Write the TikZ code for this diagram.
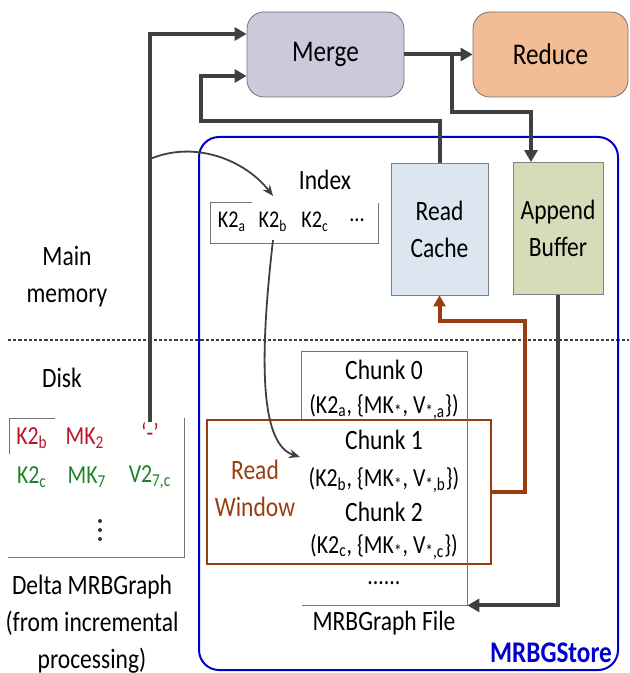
\documentclass[tikz,border=0pt]{standalone}
\usepackage{fontspec}
\setmainfont{Carlito}[FakeStretch=0.84]
\usetikzlibrary{arrows.meta,calc}

\definecolor{lineg}{RGB}{64,64,64}
\definecolor{mergefill}{RGB}{205,201,221}
\definecolor{reducefill}{RGB}{242,189,148}
\definecolor{cachefill}{RGB}{220,230,241}
\definecolor{appendfill}{RGB}{215,219,184}
\definecolor{storeblue}{RGB}{0,0,205}
\definecolor{winbrown}{RGB}{153,60,15}
\definecolor{oldred}{RGB}{185,20,40}
\definecolor{newgreen}{RGB}{30,130,40}

\begin{document}
\begin{tikzpicture}[x=0.5pt, y=-0.5pt,
    font=\fontsize{14}{18.5}\selectfont,
    stage/.style={draw=black!55, rounded corners=8.5pt, minimum width=78.5pt,
                  minimum height=42.5pt, font=\fontsize{15}{18}\selectfont},
    buf/.style={draw=black!50, align=center, minimum height=66pt},
    lbl/.style={inner sep=0pt, align=center},
    kv/.style={inner sep=0pt, font=\fontsize{13}{15}\selectfont},
    key/.style={inner sep=4pt, font=\fontsize{12}{14}\selectfont},
    rule/.style={draw=black!55, line width=0.5pt},
    flow/.style={-{Triangle[length=6pt,width=6.5pt]}, line width=2pt, draw=lineg},
    rdflow/.style={-{Triangle[length=5.5pt,width=6pt]}, line width=2pt, draw=winbrown},
    ptr/.style={-{Stealth[length=5.5pt,width=4.5pt]}, line width=0.9pt, draw=lineg}]

  \useasboundingbox (0,0) rectangle (629,673);

  % memory / disk split
  \draw[lineg, line width=0.9pt, dash pattern=on 1.6pt off 1pt] (8,340) -- (629,340);

  % MRBGStore frame
  \draw[storeblue, line width=1pt, rounded corners=10pt] (199,137) rectangle (618,670);
  \node[lbl, text=storeblue, font=\fontsize{15}{18}\bfseries] (storelbl) at (551,653) {MRBGStore};

  % stages
  \node[stage, fill=mergefill] (merge) at (325.5,54.5) {Merge};
  \node[stage, fill=reducefill, minimum width=77.5pt] (reduce) at (550.5,54.5) {Reduce};

  % in-memory buffers
  \node[buf, fill=cachefill, minimum width=48.5pt] (cache) at (439.5,229) {Read\\Cache};
  \node[buf, fill=appendfill, minimum width=45pt] (append) at (558,228.5) {Append\\Buffer};

  % index
  \node[lbl] (idx) at (325,180) {Index};
  \node[key] (k2a) at (232,222) {K2\textsubscript{a}};
  \node[key] (k2b) at (273,222) {K2\textsubscript{b}};
  \node[key] (k2c) at (315,222) {K2\textsubscript{c}};
  \node[key] (kdots) at (357,220) {...};
  \draw[rule] (252,203) -| (210,244) -| (378,203);

  % side labels
  \node[lbl] (mainmem) at (67,277) {Main\\memory};
  \node[lbl] (disk) at (62,378) {Disk};
  \node[lbl] (deltalbl) at (92,624) {Delta MRBGraph\\(from incremental\\processing)};

  % delta MRBGraph records
  \node[kv, text=oldred] (dk2b) at (32,438) {K2\textsubscript{b}};
  \node[kv, text=oldred] (dmk2) at (85,438) {MK\textsubscript{2}};
  \node[kv, text=oldred] (minus) at (150,432) {‘-’};
  \node[kv, text=newgreen] (dk2c) at (32,477) {K2\textsubscript{c}};
  \node[kv, text=newgreen] (dmk7) at (87,477) {MK\textsubscript{7}};
  \node[kv, text=newgreen] (dv27) at (150,477) {V2\textsubscript{7,c}};
  \foreach \y in {521,530,539}
    \fill[black!80] (100,\y) circle (1pt);
  \draw[rule] (55,418) -| (9,454);
  \draw[rule] (184,418) |- (8,557);

  % MRBGraph file and its chunks
  \node[minimum width=82.5pt, minimum height=126.5pt] (file) at (384.5,478.5) {};
  \node[lbl] (c0) at (384,370) {Chunk 0};
  \node[kv] (c0kv) at (384,407) {(K2\textsubscript{a}, \{MK\textsubscript{*}, V\textsubscript{*,a}\})};
  \node[lbl] (c1) at (384,440) {Chunk 1};
  \node[kv] (c1kv) at (384,480) {(K2\textsubscript{b}, \{MK\textsubscript{*}, V\textsubscript{*,b}\})};
  \node[lbl] (c2) at (384,512) {Chunk 2};
  \node[kv] (c2kv) at (384,547) {(K2\textsubscript{c}, \{MK\textsubscript{*}, V\textsubscript{*,c}\})};
  \node[kv] (cdots) at (384,583) {......};
  \node[lbl] (filelbl) at (384,623) {MRBGraph File};

  % read window over chunks 1-2
  \node[draw=winbrown, line width=1.2pt, minimum width=142pt, minimum height=72pt] (window) at (349,492) {};
  \node[lbl, text=winbrown] (wlbl) at (255,488) {Read\\Window};
  \draw[rule] (file.west |- window.north) |- (file.north east) |- (file.south west);

  % data flow
  \coordinate (split) at (452,54.5);
  \coordinate (abin) at ([xshift=-13.5pt]append.north);
  \draw[flow] (merge.east) -- (reduce.west);
  \draw[flow] (split) -- (split |- 0,112) -| (abin);
  \draw[flow] (cache.north) |- (201,121) |- ([yshift=-10.75pt]merge.west);
  \draw[flow] (minus.north) |- ([yshift=10.25pt]merge.west);
  \draw[flow] (append.south) |- (file.south east);
  \draw[rdflow] (window.east) -| (525,321) -| (cache.south);

  % index lookups
  \coordinate (tap) at (150,159);
  \coordinate (chunkin) at (300,457);
  \draw[ptr] (tap) .. controls (195,140) and (245,160) .. ([yshift=4pt]k2b.north);
  \draw[ptr] (k2b.south) .. controls (258,370) and (262,445) .. (chunkin);
\end{tikzpicture}
\end{document}
